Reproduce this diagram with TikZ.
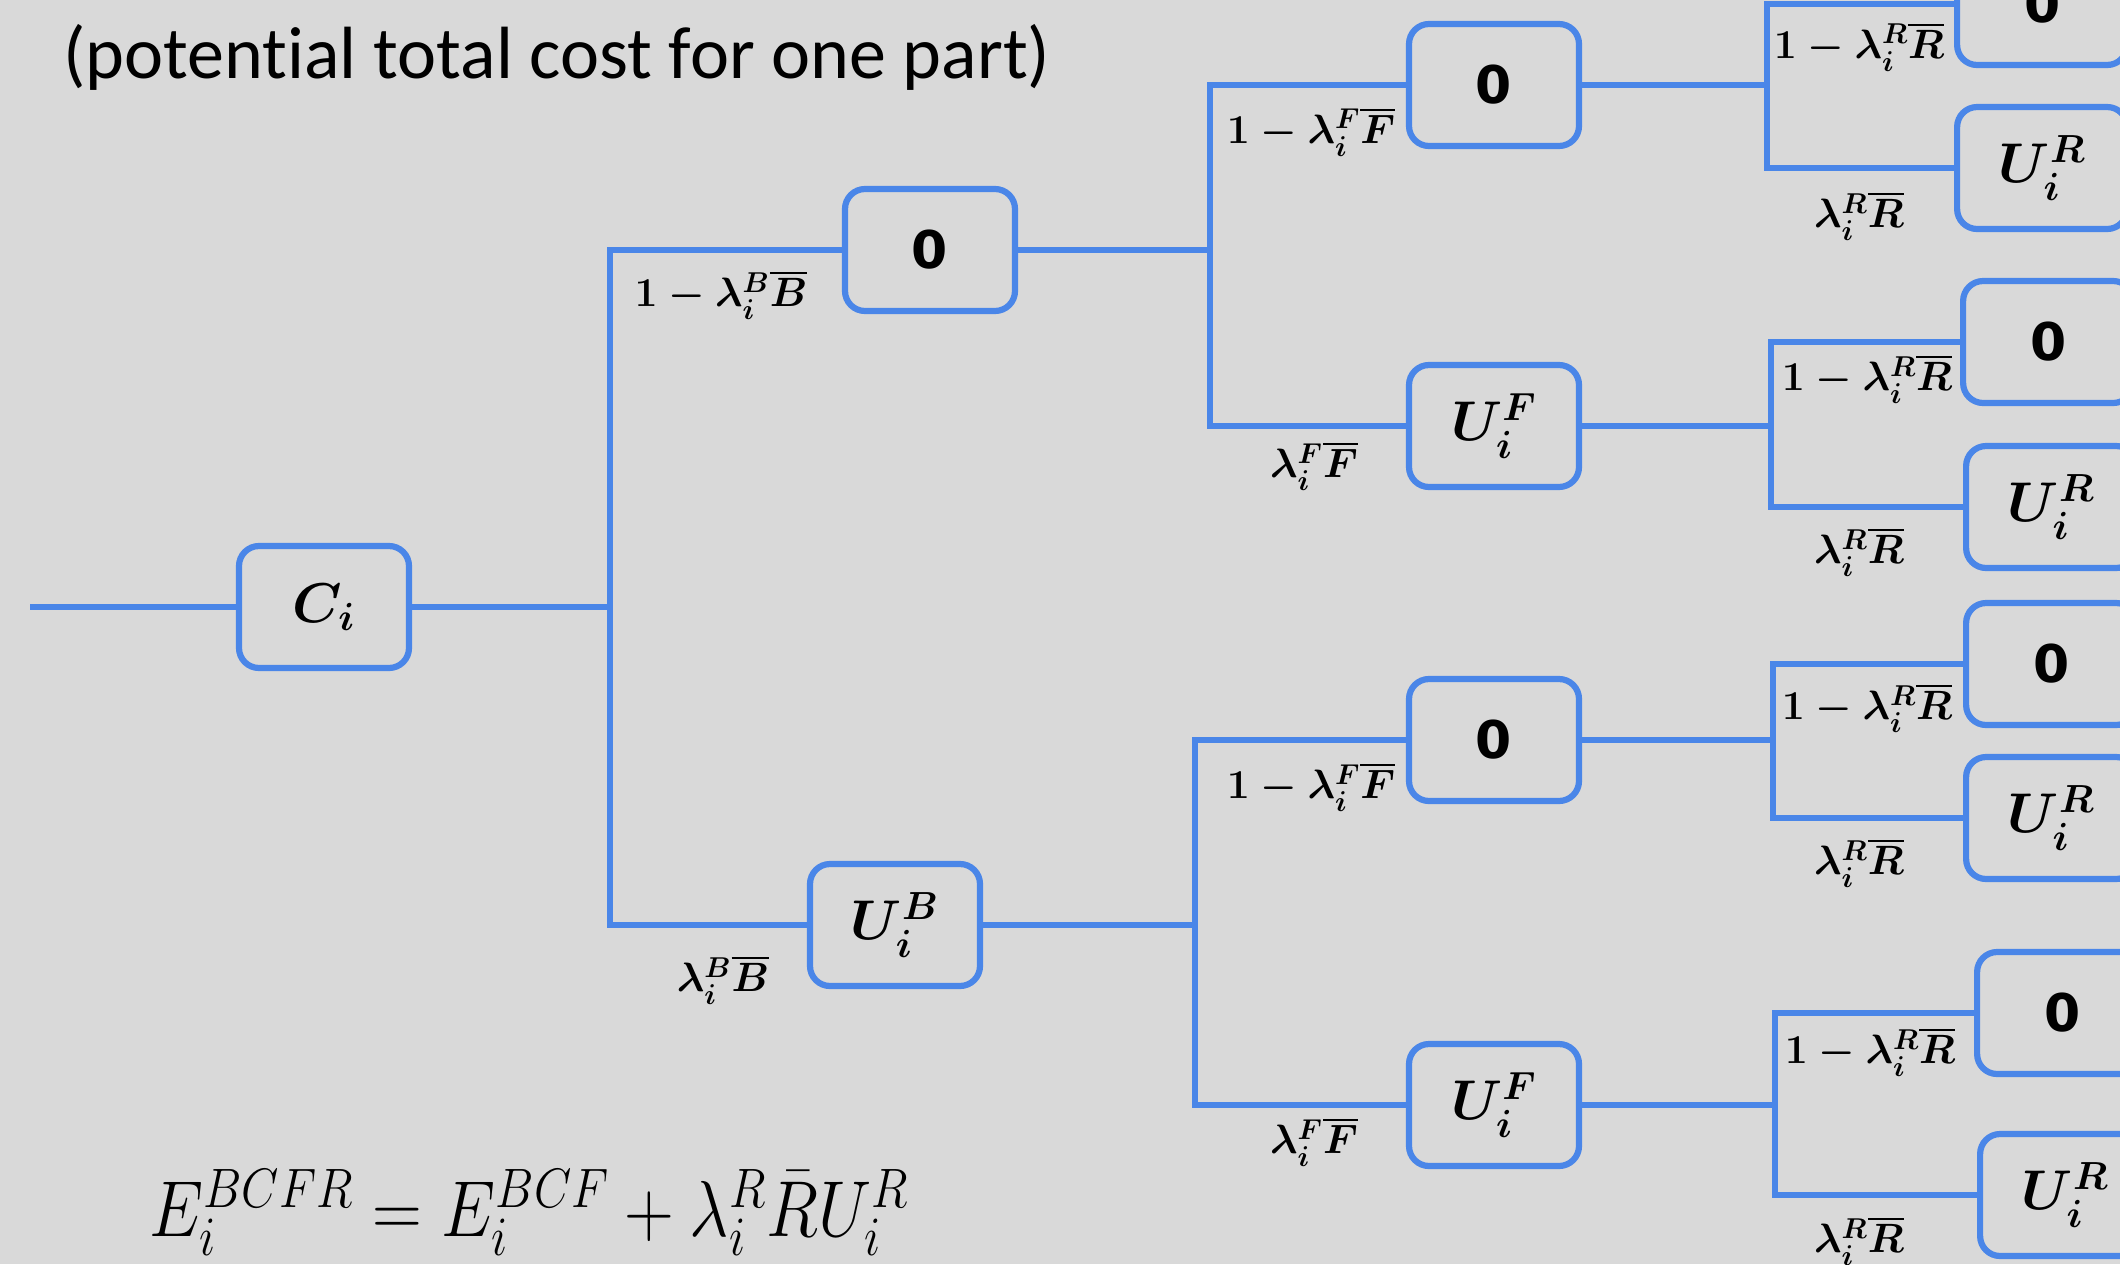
\documentclass[tikz,border=0pt]{standalone}
\usepackage{fix-cm}
\usepackage[no-math]{fontspec}
\usepackage{amsmath}
\usepackage{graphicx}
\setmainfont{Carlito}[Ligatures=NoCommon]
\newfontfamily\digitfont{DejaVu Sans}
\definecolor{bgc}{HTML}{D9D9D9}
\definecolor{treeblue}{HTML}{4A86E8}
\begin{document}
\begin{tikzpicture}[x=0.5pt,y=-0.5pt,
  costbox/.style={draw=treeblue, line width=3.1pt, rounded corners=10pt,
    minimum width=85pt, minimum height=61pt, inner sep=0pt, text=black},
  zerobox/.style={costbox, font=\digitfont\fontsize{26}{30}\selectfont\bfseries},
  mathbox/.style={costbox, font=\fontsize{28}{32}\selectfont\boldmath},
  prob/.style={inner sep=0pt, font=\fontsize{20.5}{24}\selectfont\boldmath},
  branch/.style={draw=treeblue, line width=3.1pt, line join=miter}]

% canvas
\fill[bgc] (0,0) rectangle (2120,1264);
\clip (0,0) rectangle (2120,1264);

% heading and formula
\node[inner sep=0pt, font=\fontsize{37}{42}\selectfont] (title) at (557,57)
  {(potential total cost for one part)};
\node[inner sep=0pt, anchor=base west, font=\fontsize{34.5}{38}\selectfont] (formula) at (149,1236)
  {\scalebox{1}[1.15]{$E_i^{BCFR}=E_i^{BCF}+\lambda_i^R\bar{R}U_i^R$}};

% level 0
\coordinate (start) at (30,607);
\node[mathbox] (C) at (324,607) {$C_i$};

% level 1 (B)
\node[zerobox] (B0) at (930,250) {0};
\node[mathbox] (BU) at (895,925) {$U_i^B$};

% level 2 (F)
\node[zerobox] (F0a) at (1494,85) {0};
\node[mathbox] (FUa) at (1494,426) {$U_i^F$};
\node[zerobox] (F0b) at (1494,740) {0};
\node[mathbox] (FUb) at (1494,1105) {$U_i^F$};

% level 3 (R)
\node[zerobox, anchor=west] (R0a) at (1954,4) {0};
\node[mathbox, anchor=west] (RUa) at (1954,168) {$U_i^R$};
\node[zerobox, anchor=west] (R0b) at (1960,342) {0};
\node[mathbox, anchor=west] (RUb) at (1963,507) {$U_i^R$};
\node[zerobox, anchor=west] (R0c) at (1963,664) {0};
\node[mathbox, anchor=west] (RUc) at (1963,818) {$U_i^R$};
\node[zerobox, anchor=west] (R0d) at (1974,1013) {0};
\node[mathbox, anchor=west] (RUd) at (1977,1195) {$U_i^R$};

% branching points
\coordinate (j1) at (610,607);
\coordinate (j2a) at (1210,250);
\coordinate (j2b) at (1195,925);
\coordinate (j3a) at (1767,85);
\coordinate (j3b) at (1771,426);
\coordinate (j3c) at (1773,740);
\coordinate (j3d) at (1775,1105);

% connectors
\draw[branch] (start) -- (C.west);
\draw[branch] (C.east) -- (j1);
\draw[branch] (B0.west) -| (j1) |- (BU.west);

\draw[branch] (B0.east) -- (j2a);
\draw[branch] (F0a.west) -| (j2a) |- (FUa.west);
\draw[branch] (BU.east) -- (j2b);
\draw[branch] (F0b.west) -| (j2b) |- (FUb.west);

\draw[branch] (F0a.east) -- (j3a);
\draw[branch] (R0a.west) -| (j3a) |- (RUa.west);
\draw[branch] (FUa.east) -- (j3b);
\draw[branch] (R0b.west) -| (j3b) |- (RUb.west);
\draw[branch] (F0b.east) -- (j3c);
\draw[branch] (R0c.west) -| (j3c) |- (RUc.west);
\draw[branch] (FUb.east) -- (j3d);
\draw[branch] (R0d.west) -| (j3d) |- (RUd.west);

% branch probabilities
\node[prob] (pB0) at (721,295) {$1-\lambda_i^B\overline{B}$};
\node[prob] (pBU) at (723,980) {$\lambda_i^B\overline{B}$};
\node[prob] (pF0a) at (1311,132) {$1-\lambda_i^F\overline{F}$};
\node[prob] (pFUa) at (1314,466) {$\lambda_i^F\overline{F}$};
\node[prob] (pF0b) at (1311,787) {$1-\lambda_i^F\overline{F}$};
\node[prob] (pFUb) at (1314,1142) {$\lambda_i^F\overline{F}$};
\node[prob] (pR0a) at (1859,47) {$1-\lambda_i^R\overline{R}$};
\node[prob] (pRUa) at (1859,216) {$\lambda_i^R\overline{R}$};
\node[prob] (pR0b) at (1867,379) {$1-\lambda_i^R\overline{R}$};
\node[prob] (pRUb) at (1859,552) {$\lambda_i^R\overline{R}$};
\node[prob] (pR0c) at (1867,708) {$1-\lambda_i^R\overline{R}$};
\node[prob] (pRUc) at (1859,863) {$\lambda_i^R\overline{R}$};
\node[prob] (pR0d) at (1870,1052) {$1-\lambda_i^R\overline{R}$};
\node[prob] (pRUd) at (1859,1241) {$\lambda_i^R\overline{R}$};
\end{tikzpicture}
\end{document}
